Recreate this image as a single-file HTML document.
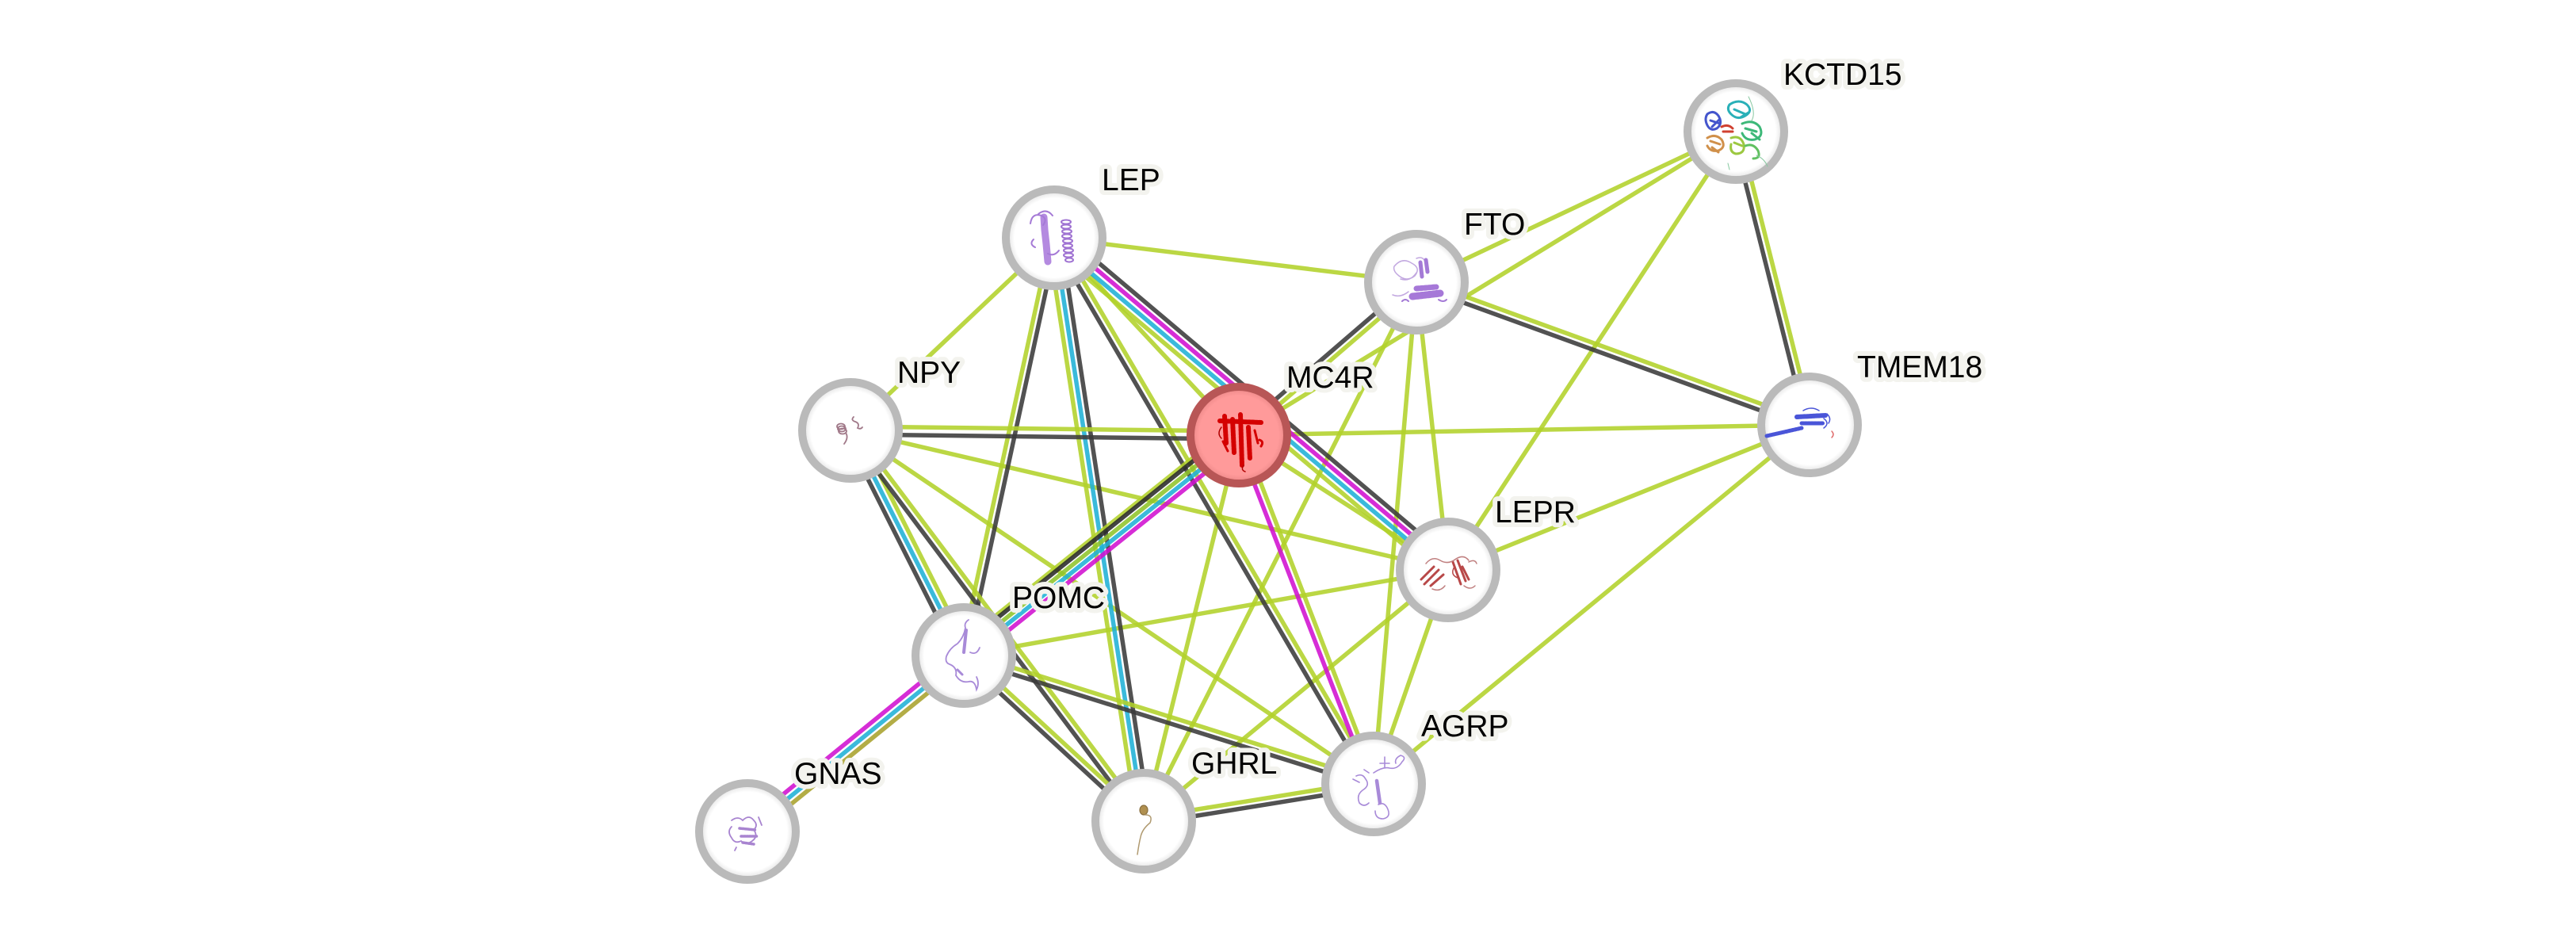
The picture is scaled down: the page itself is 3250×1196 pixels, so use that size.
<!DOCTYPE html>
<html><head><meta charset="utf-8"><style>
html,body{margin:0;padding:0;background:#fff;}
svg{display:block;}
text{font-family:"Liberation Sans",Arial,sans-serif;font-size:39px;fill:#000;paint-order:stroke;stroke:#f3f3ee;stroke-width:12px;stroke-linejoin:round;}
</style></head><body>
<svg width="3250" height="1196" viewBox="0 0 3250 1196" xmlns="http://www.w3.org/2000/svg">
<defs>
<radialGradient id="ng" cx="50%" cy="50%" r="50%">
<stop offset="0.82" stop-color="#ffffff"/><stop offset="1" stop-color="#dcdcdc"/>
</radialGradient>
<radialGradient id="mg" cx="50%" cy="50%" r="50%">
<stop offset="0.82" stop-color="#ff9a9a"/><stop offset="1" stop-color="#e88484"/>
</radialGradient>
</defs>
<rect width="3250" height="1196" fill="#fff"/>
<g stroke-linecap="butt" stroke-width="5.5" fill="none" stroke-opacity="0.88">
<g stroke="#b2d12a">
<line x1="1330" y1="300" x2="1073" y2="543"/>
<line x1="1330" y1="300" x2="1787" y2="356"/>
<line x1="1330" y1="300" x2="1563" y2="549"/>
<line x1="1787" y1="356" x2="2190" y2="166"/>
<line x1="2190" y1="166" x2="1563" y2="549"/>
<line x1="2190" y1="166" x2="1827" y2="719"/>
<line x1="1787" y1="356" x2="1827" y2="719"/>
<line x1="1787" y1="356" x2="1733" y2="989"/>
<line x1="1787" y1="356" x2="1443" y2="1036"/>
<line x1="1563" y1="549" x2="2283" y2="536"/>
<line x1="2283" y1="536" x2="1827" y2="719"/>
<line x1="2283" y1="536" x2="1733" y2="989"/>
<line x1="1563" y1="549" x2="1827" y2="719"/>
<line x1="1073" y1="543" x2="1827" y2="719"/>
<line x1="1216" y1="827" x2="1827" y2="719"/>
<line x1="1827" y1="719" x2="1443" y2="1036"/>
<line x1="1827" y1="719" x2="1733" y2="989"/>
<line x1="1563" y1="549" x2="1443" y2="1036"/>
<line x1="1073" y1="543" x2="1733" y2="989"/>
</g>
<line x1="1337.7" y1="290.8" x2="1834.7" y2="709.8" stroke="#3a3a3a"/>
<line x1="1332.6" y1="296.9" x2="1829.6" y2="715.9" stroke="#d010d0"/>
<line x1="1327.4" y1="303.1" x2="1824.4" y2="722.1" stroke="#1fb0d6"/>
<line x1="1322.3" y1="309.2" x2="1819.3" y2="728.2" stroke="#b2d12a"/>
<line x1="1333.9" y1="300.8" x2="1219.9" y2="827.8" stroke="#3a3a3a"/>
<line x1="1326.1" y1="299.2" x2="1212.1" y2="826.2" stroke="#b2d12a"/>
<line x1="1337.9" y1="298.8" x2="1450.9" y2="1034.8" stroke="#3a3a3a"/>
<line x1="1330" y1="300" x2="1443" y2="1036" stroke="#1fb0d6"/>
<line x1="1322.1" y1="301.2" x2="1435.1" y2="1037.2" stroke="#b2d12a"/>
<line x1="1333.5" y1="298" x2="1736.5" y2="987" stroke="#b2d12a"/>
<line x1="1326.5" y1="302" x2="1729.5" y2="991" stroke="#3a3a3a"/>
<line x1="1080.1" y1="539.4" x2="1223.1" y2="823.4" stroke="#b2d12a"/>
<line x1="1073" y1="543" x2="1216" y2="827" stroke="#1fb0d6"/>
<line x1="1065.9" y1="546.6" x2="1208.9" y2="830.6" stroke="#3a3a3a"/>
<line x1="1076.2" y1="540.6" x2="1446.2" y2="1033.6" stroke="#b2d12a"/>
<line x1="1069.8" y1="545.4" x2="1439.8" y2="1038.4" stroke="#3a3a3a"/>
<line x1="1073" y1="538" x2="1563" y2="544" stroke="#b2d12a"/>
<line x1="1073" y1="548" x2="1563" y2="554" stroke="#3a3a3a"/>
<line x1="1789.6" y1="359" x2="1565.6" y2="552" stroke="#b2d12a"/>
<line x1="1784.4" y1="353" x2="1560.4" y2="546" stroke="#3a3a3a"/>
<line x1="1788.4" y1="352.2" x2="2284.4" y2="532.2" stroke="#b2d12a"/>
<line x1="1785.6" y1="359.8" x2="2281.6" y2="539.8" stroke="#3a3a3a"/>
<line x1="2193.9" y1="165" x2="2286.9" y2="535" stroke="#b2d12a"/>
<line x1="2186.1" y1="167" x2="2279.1" y2="537" stroke="#3a3a3a"/>
<line x1="1207.2" y1="816.1" x2="1554.2" y2="538.1" stroke="#b2d12a"/>
<line x1="1209.4" y1="818.8" x2="1556.4" y2="540.8" stroke="#2a2a2a"/>
<line x1="1213.8" y1="824.3" x2="1560.8" y2="546.3" stroke="#8fc42a"/>
<line x1="1218.2" y1="829.7" x2="1565.2" y2="551.7" stroke="#1fb0d6"/>
<line x1="1222.6" y1="835.2" x2="1569.6" y2="557.2" stroke="#d010d0"/>
<line x1="938" y1="1042.8" x2="1211" y2="820.8" stroke="#d010d0"/>
<line x1="943" y1="1049" x2="1216" y2="827" stroke="#1fb0d6"/>
<line x1="948" y1="1055.2" x2="1221" y2="833.2" stroke="#a9a22c"/>
<line x1="1218.7" y1="824.1" x2="1445.7" y2="1033.1" stroke="#b2d12a"/>
<line x1="1213.3" y1="829.9" x2="1440.3" y2="1038.9" stroke="#3a3a3a"/>
<line x1="1217.2" y1="823.2" x2="1734.2" y2="985.2" stroke="#b2d12a"/>
<line x1="1214.8" y1="830.8" x2="1731.8" y2="992.8" stroke="#3a3a3a"/>
<line x1="1442.4" y1="1032.1" x2="1732.4" y2="985.1" stroke="#b2d12a"/>
<line x1="1443.6" y1="1039.9" x2="1733.6" y2="992.9" stroke="#3a3a3a"/>
<line x1="1566.7" y1="547.6" x2="1736.7" y2="987.6" stroke="#b2d12a"/>
<line x1="1559.3" y1="550.4" x2="1729.3" y2="990.4" stroke="#d010d0"/>
</g>

<g stroke="#bababa" stroke-width="10" fill="url(#ng)">
<circle cx="1330" cy="300" r="61"/>
<circle cx="1787" cy="356" r="61"/>
<circle cx="2190" cy="166" r="61"/>
<circle cx="1073" cy="543" r="61"/>
<circle cx="2283" cy="536" r="61"/>
<circle cx="1827" cy="719" r="61"/>
<circle cx="1216" cy="827" r="61"/>
<circle cx="943" cy="1049" r="61"/>
<circle cx="1443" cy="1036" r="61"/>
<circle cx="1733" cy="989" r="61"/>
</g>
<circle cx="1563" cy="549" r="61" stroke="#b85656" stroke-width="10" fill="url(#mg)"/>

<g transform="translate(1330,300)" fill="none" stroke-linecap="round">
<path d="M-13,-26 L-12,-10 L-10,8 L-8,30" stroke="#b48ae0" stroke-width="9"/>
<path d="M-30,-18 q2,-14 14,-10 q8,4 2,12 M-26,2 q-6,6 2,10 M-20,-30 q10,-8 18,2 M-8,20 q8,4 14,-4" stroke="#a57ad6" stroke-width="2"/>
<g stroke="#9f72d2" stroke-width="2">
<ellipse cx="15" cy="-20" rx="6" ry="2.5"/><ellipse cx="15" cy="-14" rx="6" ry="2.5"/><ellipse cx="16" cy="-8" rx="6" ry="2.5"/><ellipse cx="16" cy="-2" rx="6" ry="2.5"/><ellipse cx="17" cy="4" rx="6" ry="2.5"/><ellipse cx="17" cy="10" rx="6" ry="2.5"/><ellipse cx="18" cy="16" rx="6" ry="2.5"/><ellipse cx="18" cy="22" rx="6" ry="2.5"/><ellipse cx="19" cy="28" rx="5" ry="2.5"/>
</g>
</g>
<g transform="translate(1787,356)" fill="none" stroke-linecap="round">
<path d="M-28,-20 q10,-12 22,-4 q12,6 4,16 q-10,8 -20,0 q-8,-6 -6,-12 M-20,-4 q12,4 20,-8 M-10,12 q-10,8 -20,4 M0,-30 q10,-4 12,8" stroke="#c2a8e0" stroke-width="1.5"/>
<path d="M5,-25 l2,18 M12,-28 l2,15" stroke="#a47ad6" stroke-width="5"/>
<path d="M-5,18 L30,14" stroke="#a678d8" stroke-width="9" stroke-dasharray="3 2"/>
<path d="M0,8 L25,6" stroke="#a678d8" stroke-width="7" stroke-dasharray="3 2"/>
<path d="M-18,24 q4,-4 8,0 M28,22 q6,4 10,0" stroke="#a47ad6" stroke-width="2"/>
</g>
<g transform="translate(2190,166)" fill="none" stroke-linecap="round" stroke-width="3">
<path d="M-36,-22 q8,-6 14,2 q6,10 -2,16 q-8,4 -12,-4 q-4,-8 0,-14 M-30,-6 l10,-10 M-32,-14 l12,4" stroke="#4455cc"/>
<path d="M-8,-34 q12,-8 22,0 q8,8 -2,14 q-10,6 -18,-2 q-6,-6 -2,-12 M6,-18 l10,-6 M-2,-28 l14,6" stroke="#2ab0b8"/>
<path d="M8,-10 q14,-6 22,4 q6,12 -6,16 q-12,2 -16,-8 M20,2 l10,8 M12,-4 l14,4" stroke="#3cb878"/>
<path d="M-18,-6 q8,-4 14,2 M-16,0 l12,0" stroke="#d04030"/>
<path d="M-36,8 q10,-6 18,2 q6,10 -4,14 q-10,2 -14,-6 M-30,20 l8,6 M-32,12 l12,4" stroke="#d0904a"/>
<path d="M-6,8 q12,-4 16,8 q2,12 -10,12 q-8,-2 -6,-12 M-2,14 l10,4" stroke="#9cc840"/>
<path d="M12,18 q10,-4 16,6 q4,10 -6,10" stroke="#60c060"/>
<path d="M16,-44 q10,20 4,30 M26,30 q10,4 14,14 M-10,40 l2,8" stroke="#88c8a0" stroke-width="1"/>
</g>
<g transform="translate(1073,543)" fill="none" stroke="#a07888" stroke-width="1.8" stroke-linecap="round">
<ellipse cx="-12" cy="-5" rx="5" ry="3.5"/><ellipse cx="-11" cy="-2" rx="5" ry="3.5"/><ellipse cx="-10" cy="1" rx="5" ry="3.5"/>
<path d="M-6,3 q4,6 -2,14 M4,-17 q-4,4 2,6 q6,2 3,8 q4,2 6,-1"/>
</g>
<g transform="translate(1563,549)" fill="none" stroke="#d40000" stroke-linecap="round">
<path d="M-24,-18 L28,-16" stroke-width="6" stroke-dasharray="3 1.5"/>
<path d="M-18,-24 L-16,10" stroke-width="6" stroke-dasharray="3 1.5"/>
<path d="M-8,-20 L-6,22" stroke-width="6" stroke-dasharray="3 1.5"/>
<path d="M2,-26 L4,38" stroke-width="6" stroke-dasharray="3 1.5"/>
<path d="M12,-10 L14,30" stroke-width="6" stroke-dasharray="3 1.5"/>
<path d="M-20,8 L-14,20 M20,-6 L24,10 M26,6 q6,2 2,8" stroke-width="3"/>
<path d="M-22,-10 q-6,8 0,14 M6,38 q-4,6 2,8" stroke="#b00000" stroke-width="1.5"/>
</g>
<g transform="translate(2283,536)" fill="none" stroke="#4a55d8" stroke-linecap="round">
<path d="M-54,14 L-10,4" stroke-width="5" stroke-dasharray="2.5 1.5"/>
<path d="M-16,-10 L20,-12" stroke-width="6" stroke-dasharray="2.5 1.5"/>
<path d="M-10,-2 L18,-2" stroke-width="5" stroke-dasharray="2.5 1.5"/>
<path d="M-8,-18 q10,-6 20,0 M18,-8 q8,6 0,12 M22,-14 q6,6 2,12" stroke-width="1.5"/>
<path d="M28,8 q4,4 0,8" stroke="#e07070" stroke-width="1.5"/>
</g>
<g transform="translate(1827,719)" fill="none" stroke="#b84848" stroke-linecap="round">
<path d="M-34,12 L-18,-4 M-30,18 L-12,0 M-22,20 L-6,6 M6,-10 L16,18 M12,-12 L22,14 M18,-4 L26,12" stroke-width="3"/>
<path d="M-28,-8 q8,-10 18,-4 q10,6 20,-2 q10,-6 16,2 M-20,24 q10,4 16,-4 M20,20 q8,6 14,0 M26,-10 q8,-4 10,2" stroke="#c08080" stroke-width="1.5"/>
<path d="M8,-4 q-6,10 4,14" stroke-width="1.5"/>
</g>
<g transform="translate(1216,827)" fill="none" stroke="#a88ad8" stroke-linecap="round" stroke-width="1.8">
<path d="M6,-45 q-6,4 -4,10 q-2,12 -10,20 q-10,6 -14,16 q-2,8 4,10 q10,4 8,14 q6,10 16,8 q8,-2 10,10 q4,-8 0,-16 M8,-4 q8,4 12,-6"/>
<path d="M3,-32 L0,-4" stroke-width="4"/>
<path d="M-8,18 l6,6" stroke-width="3"/>
</g>
<g transform="translate(943,1049)" fill="none" stroke="#a884d0" stroke-linecap="round" stroke-width="1.8">
<path d="M-20,-14 q8,-6 14,0 q8,-8 14,0 q6,6 0,12 q6,8 -2,14 q-8,6 -14,0 q-8,4 -12,-4 q-6,-8 0,-14"/>
<path d="M-10,-4 L10,-2 M-8,6 L12,6 M-6,14 L8,16" stroke-width="3.5" stroke-dasharray="2 1.5"/>
<path d="M14,-18 l4,10 M-14,20 l-2,4"/>
</g>
<g transform="translate(1443,1036)" fill="none" stroke-linecap="round">
<ellipse cx="0" cy="-14" rx="5" ry="6" fill="#b09050" stroke="#8a7040" stroke-width="1.2"/>
<path d="M2,-8 q10,0 6,10 q-10,8 -12,18 q-2,8 -4,22" stroke="#b09a70" stroke-width="1.5"/>
</g>
<g transform="translate(1733,989)" fill="none" stroke="#a88ad8" stroke-linecap="round" stroke-width="1.6">
<path d="M14,-34 l0,14 M8,-26 l12,0 M-22,-10 q8,-4 12,4 q6,8 -4,14 q-8,6 -4,16 q6,6 12,0 M0,-14 q12,-8 20,-6 q10,2 16,-8 q6,-6 -2,-8 q-8,4 -6,10 M6,26 q8,-4 12,6 q4,10 -6,12 q-10,0 -10,-10 M-26,-6 l8,4 M-12,-18 l6,4"/>
<path d="M4,-4 L8,24" stroke-width="4.5"/>
</g>

<text x="1390" y="240">LEP</text>
<text x="1847" y="296">FTO</text>
<text x="2250" y="107">KCTD15</text>
<text x="1132" y="483">NPY</text>
<text x="1623" y="489">MC4R</text>
<text x="2343" y="476">TMEM18</text>
<text x="1886" y="659">LEPR</text>
<text x="1277" y="767">POMC</text>
<text x="1002" y="989">GNAS</text>
<text x="1503" y="976">GHRL</text>
<text x="1793" y="929">AGRP</text>
</svg>
</body></html>
